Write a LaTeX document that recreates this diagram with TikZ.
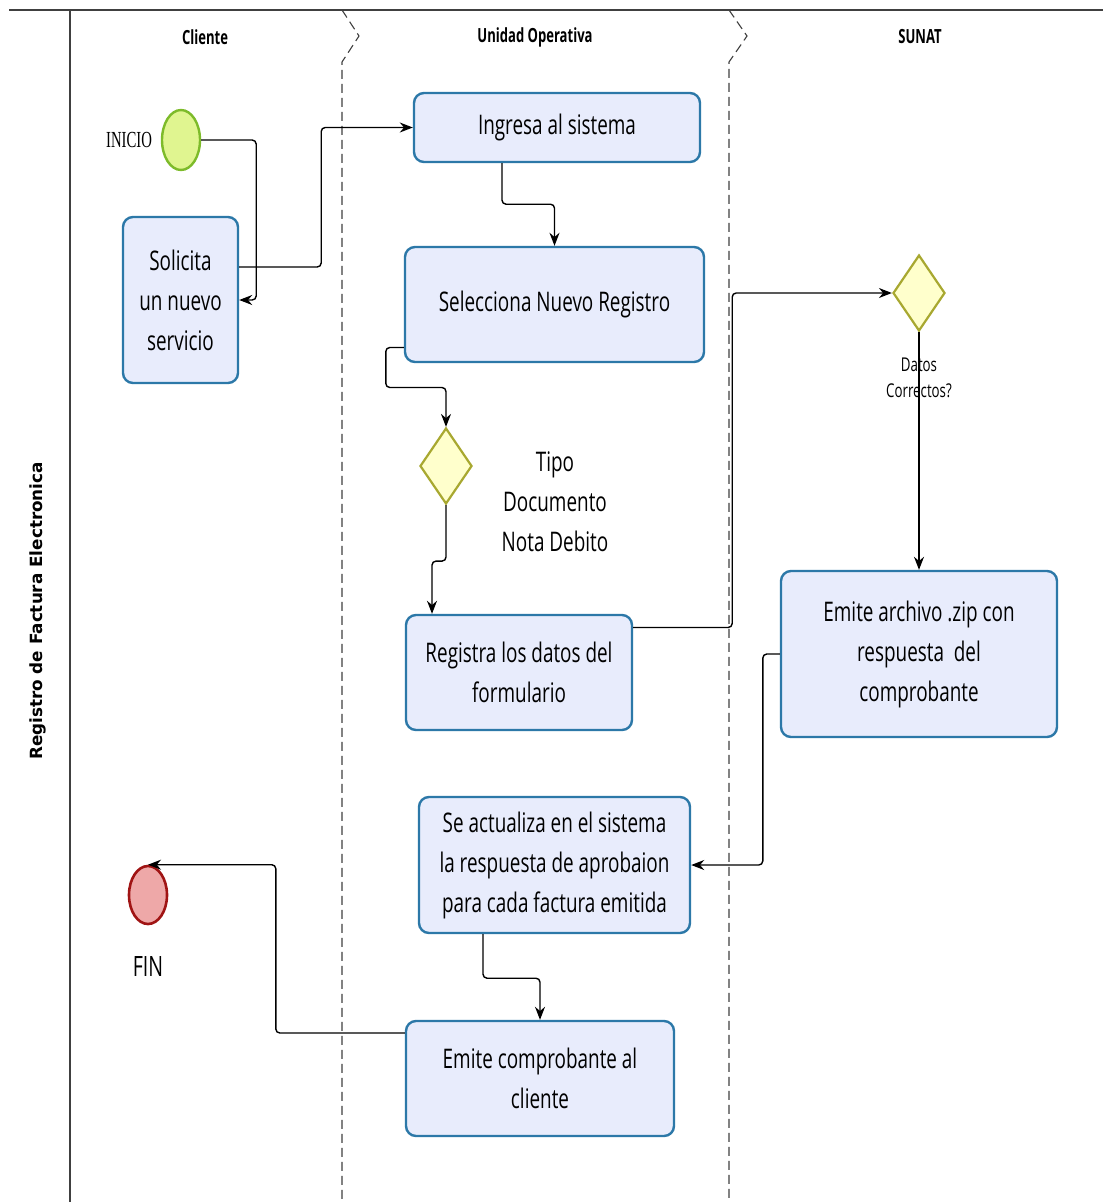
\documentclass[tikz,border=0pt]{standalone}
\usepackage{fontspec}
\setmainfont{Open Sans}
\newfontfamily\bodyfont[FakeStretch=0.70]{Open Sans}
\newfontfamily\headfont[FakeStretch=0.67]{Open Sans}
\newfontfamily\serifcond[FakeStretch=0.64]{Liberation Serif}
\newfontfamily\titlefont{DejaVu Sans}
\usetikzlibrary{arrows.meta,shapes.geometric,calc}

\definecolor{taskfill}{HTML}{E8ECFC}
\definecolor{taskline}{HTML}{2C78A8}
\definecolor{gatefill}{HTML}{FFFFCC}
\definecolor{gateline}{HTML}{A8A830}
\definecolor{startfill}{HTML}{E0F590}
\definecolor{startline}{HTML}{7DBB2A}
\definecolor{endfill}{HTML}{EEA8A8}
\definecolor{endline}{HTML}{A01414}
\definecolor{laneline}{HTML}{404040}

\tikzset{
  task/.style={draw=taskline, fill=taskfill, line width=2.4pt, rounded corners=10pt,
    align=center, inner sep=0pt, font=\bodyfont\fontsize{27}{40}\selectfont},
  gate/.style={diamond, draw=gateline, fill=gatefill, line width=2.2pt, inner sep=0pt,
    minimum width=52pt, minimum height=76pt},
  startev/.style={ellipse, draw=startline, fill=startfill, line width=2.4pt, inner sep=0pt,
    minimum width=38pt, minimum height=60pt},
  endev/.style={ellipse, draw=endline, fill=endfill, line width=2.6pt, inner sep=0pt,
    minimum width=38pt, minimum height=58pt},
  flow/.style={line width=1.4pt, black, rounded corners=4pt, -{Stealth[length=13pt,width=10pt]}},
  lanehead/.style={font=\headfont\bfseries\fontsize{19.5}{22}\selectfont},
  sepline/.style={laneline, line width=1.1pt, dash pattern=on 9pt off 5pt},
  plain/.style={align=center, inner sep=0pt, font=\bodyfont\fontsize{27}{40}\selectfont}
}

\begin{document}
\begin{tikzpicture}[x=1pt,y=-1pt]
\useasboundingbox (0,0) rectangle (1103,1202);
\fill[white] (0,0) rectangle (1103,1202);

% pool frame and lane separators
\draw[laneline, line width=2pt] (9,10) -- (1103,10);
\draw[laneline, line width=1.4pt] (70,10) -- (70,1202);
\draw[sepline] (342,10) -- (359,36) -- (342,62) -- (342,1202);
\draw[sepline] (729,10) -- (747,36) -- (729,62) -- (729,1202);

% pool and lane titles
\node[rotate=90, font=\titlefont\bfseries\fontsize{16.8}{18}\selectfont] (pool) at (38,611) {Registro de Factura Electronica};
\node[lanehead] (lcli) at (205,37) {Cliente};
\node[lanehead] (luni) at (535,37) {Unidad Operativa};
\node[lanehead] (lsun) at (920,37) {SUNAT};

% events
\node[startev] (start) at (181,140) {};
\node[font=\serifcond\fontsize{23}{26}\selectfont, inner sep=0pt] (startlbl) at (129,140) {INICIO};
\node[endev] (fin) at (148,895) {};
\node[plain, font=\bodyfont\fontsize{28}{40}\selectfont] (finlbl) at (148,966) {FIN};

% tasks
\node[task, minimum width=115pt, minimum height=166pt] (sol) at (180.5,300) {Solicita\\un nuevo\\servicio};
\node[task, minimum width=286pt, minimum height=69pt] (ing) at (557,127.5) {Ingresa al sistema};
\node[task, minimum width=299pt, minimum height=115pt] (sel) at (554.5,304.5) {Selecciona Nuevo Registro};
\node[task, minimum width=226pt, minimum height=115pt] (reg) at (519,672.5) {Registra los datos del\\formulario};
\node[task, minimum width=276pt, minimum height=166pt] (zip) at (919,654) {Emite archivo .zip con\\respuesta\ \ del\\comprobante};
\node[task, minimum width=271pt, minimum height=136pt] (act) at (554.5,865) {Se actualiza en el sistema\\la respuesta de aprobaion\\para cada factura emitida};
\node[task, minimum width=268pt, minimum height=115pt] (emi) at (540,1078.5) {Emite comprobante al\\cliente};

% gateways
\node[gate] (g1) at (446,466) {};
\node[plain] (g1lbl) at (555,502) {Tipo\\Documento\\Nota Debito};
\node[gate] (g2) at (919,293) {};
\node[plain, font=\bodyfont\fontsize{19}{26}\selectfont] (g2lbl) at (919,378) {Datos\\Correctos?};

% sequence flows
\draw[flow] (start.east) -- ++(55,0) |- (sol.east);
\draw[flow] ($(sol.east)+(0,-33)$) -- ++(82,0) |- (ing.west);
\draw[flow] ($(ing.south)+(-55,0)$) -- ++(0,41) -| (sel.north);
\draw[flow] ($(sel.west)+(0,43)$) -- ++(-18,0) -- ++(0,40) -| (g1.north);
\draw[flow] (g1.south) -- ++(0,56) -| ($(reg.north)+(-87,0)$);
\draw[flow] ($(reg.east)+(0,-45)$) -- ++(99,0) |- (g2.west);
\draw[flow] (g2.south) -- (zip.north);
\draw[flow] (zip.west) -- ++(-17,0) |- (act.east);
\draw[flow] ($(act.south)+(-71.5,0)$) -- ++(0,44) -| (emi.north);
\draw[flow] ($(emi.west)+(0,-45.5)$) -- ++(-129,0) |- (fin.north);
\end{tikzpicture}
\end{document}
